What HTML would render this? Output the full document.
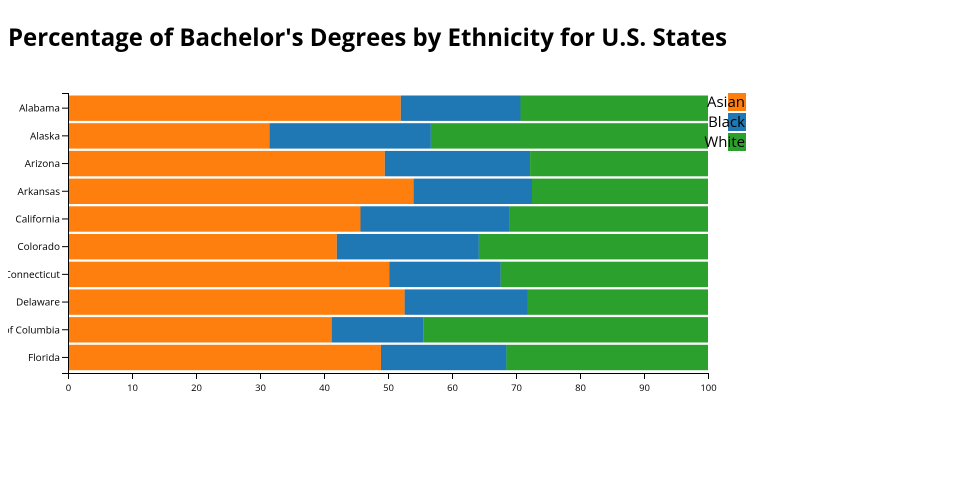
<!DOCTYPE html>
<html><head><style>body{margin:0;background:#fff}svg{display:block;font-family:"Open Sans","DejaVu Sans","Liberation Sans",sans-serif}</style></head><body>
<svg width="960" height="500" xmlns="http://www.w3.org/2000/svg">
<text x="8" y="46" font-size="24" font-weight="bold" fill="#000" textLength="719" lengthAdjust="spacingAndGlyphs">Percentage of Bachelor's Degrees by Ethnicity for U.S. States</text>
<defs><clipPath id="c"><rect x="8" y="80" width="60" height="300"/></clipPath></defs>
<g id="bars"></g>
<g clip-path="url(#c)" font-size="10" text-anchor="end" id="labels"></g>
<g id="axes" stroke="#000" fill="none"></g>
<g font-size="9.5" text-anchor="middle" id="xt"></g>
<rect x="728" y="93" width="18" height="18" fill="#ff7f0e"/>
<rect x="728" y="113" width="18" height="18" fill="#1f77b4"/>
<rect x="728" y="133" width="18" height="18" fill="#2ca02c"/>
<g font-size="15" text-anchor="end"><text x="745" y="107">Asian</text><text x="745" y="127">Black</text><text x="745" y="147">White</text></g>
</svg>
<script>
var d=[["Alabama",52,70.7],["Alaska",31.5,56.7],["Arizona",49.5,72.2],["Arkansas",54,72.5],["California",45.7,69],["Colorado",42,64.2],["Connecticut",50.2,67.6],["Delaware",52.6,71.8],["District of Columbia",41.2,55.5],["Florida",48.9,68.5]];
var ns="http://www.w3.org/2000/svg";
function el(p,t,a,txt){var e=document.createElementNS(ns,t);for(var k in a)e.setAttribute(k,a[k]);if(txt)e.textContent=txt;document.getElementById(p).appendChild(e);}
var x0=68,s=6.4,y0=94.3,bw=27.7;
d.forEach(function(r,i){var y=y0+i*bw+1.2,h=bw-2.3;
el("bars","rect",{x:x0,y:y,width:r[1]*s,height:h,fill:"#ff7f0e"});
el("bars","rect",{x:x0+r[1]*s,y:y,width:(r[2]-r[1])*s,height:h,fill:"#1f77b4"});
el("bars","rect",{x:x0+r[2]*s,y:y,width:(100-r[2])*s,height:h,fill:"#2ca02c"});
var cy=y0+i*bw+bw/2;
el("labels","text",{x:60,y:cy+3.5},r[0]);
el("axes","line",{x1:62,x2:68,y1:cy,y2:cy});
});
el("axes","path",{d:"M62,93.5H68.5V373.5H62"});
el("axes","path",{d:"M68.5,379V373.5H708.5V379"});
for(var t=0;t<=100;t+=10){var x=x0+t*s+0.5;el("axes","line",{x1:x,x2:x,y1:373,y2:379});el("xt","text",{x:x,y:391},String(t));}
</script>
</body></html>
